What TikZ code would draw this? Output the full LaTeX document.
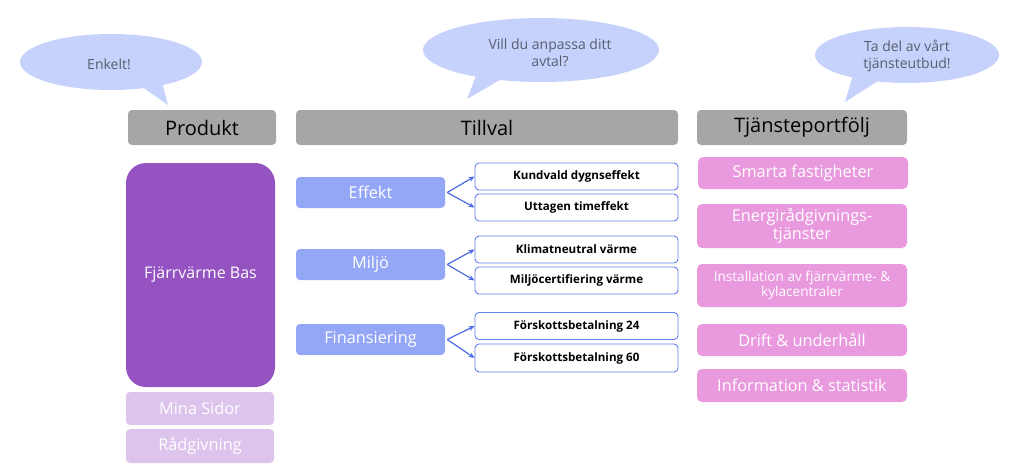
\documentclass[tikz,border=0pt]{standalone}
\usepackage{fontspec}
\setmainfont{Open Sans}
\usetikzlibrary{arrows.meta}
\definecolor{hdr}{RGB}{166,166,166}
\definecolor{bas}{RGB}{149,82,193}
\definecolor{lpur}{RGB}{220,196,236}
\definecolor{bluebox}{RGB}{148,166,246}
\definecolor{bord}{RGB}{100,128,238}
\definecolor{arrc}{RGB}{76,106,230}
\definecolor{pinkbox}{RGB}{233,154,222}
\definecolor{bub}{RGB}{198,210,251}
\definecolor{bubtxt}{RGB}{88,94,112}
\tikzset{
  hdrbox/.style={fill=hdr, rounded corners=4pt, inner sep=0pt, minimum height=35pt, text=black, font=\fontsize{20}{23}\selectfont},
  basbox/.style={fill=bas, rounded corners=20pt, inner sep=0pt, text=white, font=\fontsize{16}{19}\selectfont},
  lpbox/.style={fill=lpur, rounded corners=4pt, inner sep=0pt, minimum width=148pt, text=white, font=\fontsize{16.3}{19}\selectfont},
  catbox/.style={fill=bluebox, rounded corners=4pt, inner sep=0pt, minimum width=149pt, minimum height=31pt, text=white, font=\fontsize{16.3}{19}\selectfont},
  optbox/.style={draw=bord, line width=0.9pt, fill=white, rounded corners=4pt, inner sep=0pt, minimum width=203pt, minimum height=27pt, text=black, font=\bfseries\fontsize{11.6}{13}\selectfont},
  pinkb/.style={fill=pinkbox, rounded corners=5pt, inner sep=0pt, minimum width=210pt, text=white, align=center, font=\fontsize{16.3}{18}\selectfont},
  pinks/.style={fill=pinkbox, rounded corners=5pt, inner sep=0pt, minimum width=210pt, text=white, align=center, font=\fontsize{13.6}{15.5}\selectfont},
  bubtext/.style={text=bubtxt, align=center, font=\fontsize{14}{17.5}\selectfont},
  arr/.style={draw=arrc, line width=1.2pt, -{Stealth[length=6pt,width=5pt]}}
}
\begin{document}
\begin{tikzpicture}[x=1pt,y=-1pt]
\useasboundingbox (0,0) rectangle (1024,466);
% bubbles
\fill[bub] (111,62) ellipse [x radius=91, y radius=28];
\fill[bub] (138,84) -- (168,105) -- (162,82) -- cycle;
\node[bubtext] (b1) at (109,64) {Enkelt!};
\fill[bub] (541,50) ellipse [x radius=118, y radius=32];
\fill[bub] (476,76) -- (467,99) -- (500,80) -- cycle;
\node[bubtext] (b2) at (550,53) {Vill du anpassa ditt\\avtal?};
\fill[bub] (907,55) ellipse [x radius=92, y radius=28];
\fill[bub] (852,78) -- (845,102) -- (878,81) -- cycle;
\node[bubtext] (b3) at (907,56) {Ta del av vårt\\tjänsteutbud!};
% headers
\node[hdrbox, minimum width=148pt] (produkt) at (202,127.5) {Produkt};
\node[hdrbox, minimum width=382pt] (tillval) at (487,127.5) {Tillval};
\node[hdrbox, minimum width=210pt] (tjp) at (802,127.5) {Tjänsteportfölj};
% produkt column
\node[basbox, minimum width=149pt, minimum height=224pt] (bas) at (200.5,275) {Fjärrvärme Bas};
\node[lpbox, minimum height=33pt] (mina) at (200,408.5) {Mina Sidor};
\node[lpbox, minimum height=34pt] (rad) at (200,446) {Rådgivning};
% tillval
\node[catbox] (effekt) at (370.5,192.5) {Effekt};
\node[catbox] (miljo) at (370.5,264.5) {Miljö};
\node[catbox] (fin) at (370.5,339.5) {Finansiering};
\node[optbox] (kund) at (576.5,176.5) {Kundvald dygnseffekt};
\node[optbox] (utt) at (576.5,207.5) {Uttagen timeffekt};
\node[optbox] (klim) at (576.5,249.5) {Klimatneutral värme};
\node[optbox] (mcert) at (576.5,280.5) {Miljöcertifiering värme};
\node[optbox, minimum height=27pt] (f24) at (576.5,326) {Förskottsbetalning 24};
\node[optbox, minimum height=28pt] (f60) at (576.5,358) {Förskottsbetalning 60};
\draw[arr] ([xshift=2pt]effekt.east) -- (kund.west);
\draw[arr] ([xshift=2pt]effekt.east) -- (utt.west);
\draw[arr] ([xshift=2pt]miljo.east) -- (klim.west);
\draw[arr] ([xshift=2pt]miljo.east) -- (mcert.west);
\draw[arr] ([xshift=2pt]fin.east) -- (f24.west);
\draw[arr] ([xshift=2pt]fin.east) -- (f60.west);
% tjansteportfolj
\node[pinkb, minimum height=32pt] (smart) at (803,173) {Smarta fastigheter};
\node[pinkb, minimum height=44pt] (energi) at (802,226) {Energirådgivnings-\\tjänster};
\node[pinks, minimum height=43pt] (inst) at (802,285.5) {Installation av fjärrvärme- \&\\kylacentraler};
\node[pinkb, minimum height=32pt] (drift) at (802,340) {Drift \& underhåll};
\node[pinkb, minimum height=33pt] (info) at (802,385.5) {Information \& statistik};
\end{tikzpicture}
\end{document}
